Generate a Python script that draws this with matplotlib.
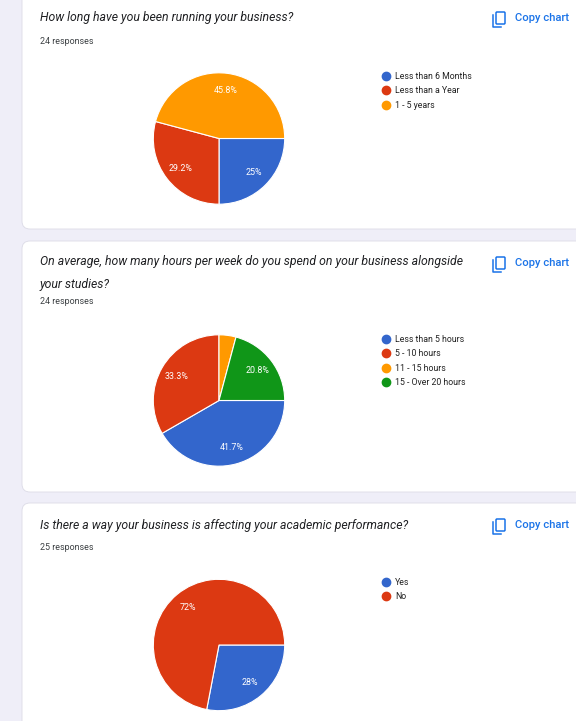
import matplotlib
matplotlib.use("Agg")
import matplotlib.pyplot as plt
from matplotlib.patches import FancyBboxPatch
from matplotlib.lines import Line2D

plt.rcParams['font.family'] = ['Roboto', 'DejaVu Sans']

# data
titles = ["How long have you been running your business?",
          "On average, how many hours per week do you spend on your business alongside\nyour studies?",
          "Is there a way your business is affecting your academic performance?"]
responses = ["24 responses", "24 responses", "25 responses"]
labels1 = ["Less than 6 Months", "Less than a Year", "1 - 5 years"]
counts1 = [6, 7, 11]
labels2 = ["Less than 5 hours", "5 - 10 hours", "11 - 15 hours", "15 - Over 20 hours"]
counts2 = [10, 8, 1, 5]
labels3 = ["Yes", "No"]
counts3 = [7, 18]

blue, red, orange, green = "#3366cc", "#dc3912", "#ff9900", "#109618"
colors1 = [blue, red, orange]
colors2 = [blue, red, orange, green]
colors3 = [blue, red]

W, H = 576, 721
fig = plt.figure(figsize=(W/100, H/100), dpi=100)
fig.patch.set_facecolor("#efeef8")

bg = fig.add_axes([0, 0, 1, 1])
bg.set_xlim(0, W)
bg.set_ylim(H, 0)
bg.axis("off")

# cards: (top, bottom)
cards = [(-20, 229), (241, 492), (503, 740)]
for top, bot in cards:
    bg.add_patch(FancyBboxPatch((22, top), 600, bot-top,
                                boxstyle="round,pad=0,rounding_size=8",
                                fc="white", ec="#dcdbe6", lw=0.6))

title_y = [18, 263, 525]
resp_y = [41, 302, 547]
for i in range(3):
    if i == 1:
        bg.text(40, title_y[i]-7.5, titles[i], fontsize=8.8, style="italic", color="#202124",
                va="top", ha="left", linespacing=1.95)
    else:
        bg.text(40, title_y[i], titles[i], fontsize=8.8, style="italic", color="#202124",
                va="center", ha="left")
    bg.text(40, resp_y[i], responses[i], fontsize=6.4, color="#3c4043", va="center")
    cy = title_y[i]
    # copy icon
    bg.add_patch(FancyBboxPatch((496, cy-6), 9, 12, boxstyle="round,pad=0,rounding_size=1",
                                fc="none", ec="#1a73e8", lw=1.1))
    bg.plot([493, 493, 501], [cy-3, cy+8.5, cy+8.5], color="#1a73e8", lw=1.1)
    bg.text(515, cy, "Copy chart", fontsize=8.1, color="#1a73e8", va="center", fontweight="medium")


def fmt(p):
    if p < 5:
        return ""
    s = "%.1f" % p
    if s.endswith(".0"):
        s = s[:-2]
    return s + "%"


def draw_pie(cx, cy, r, counts, colors, labels, lx, ly):
    ax = fig.add_axes([(cx-r)/W, 1-(cy+r)/H, 2*r/W, 2*r/H])
    ax.pie(counts, colors=colors, startangle=0, counterclock=False, radius=1,
           autopct=fmt, pctdistance=0.74,
           wedgeprops=dict(edgecolor="white", linewidth=0.8),
           textprops=dict(color="white", fontsize=6.4))
    ax.set_xlim(-1.02, 1.02)
    ax.set_ylim(-1.02, 1.02)
    ax.set_aspect("equal")
    handles = [Line2D([], [], marker="o", ls="", color=c, markersize=6) for c in colors]
    fig.legend(handles, labels, loc="upper left", bbox_to_anchor=(lx/W, 1-ly/H),
               frameon=False, fontsize=6.3, handletextpad=0.5, labelspacing=0.62,
               borderaxespad=0, borderpad=0, handlelength=1.0, labelcolor="#222222")


draw_pie(219, 138.5, 67, counts1, colors1, labels1, 382, 72)
draw_pie(219, 400.5, 67, counts2, colors2, labels2, 382, 335)
draw_pie(219, 645, 67, counts3, colors3, labels3, 382, 578)

fig.savefig("out.png", dpi=100, facecolor=fig.get_facecolor())
